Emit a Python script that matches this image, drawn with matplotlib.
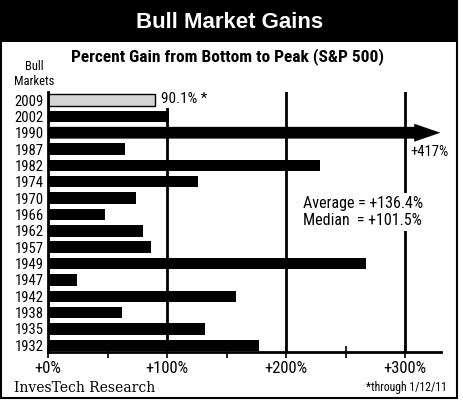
import matplotlib
matplotlib.use("Agg")
import matplotlib.pyplot as plt
from matplotlib import font_manager
from matplotlib.patches import Rectangle, FancyArrow

years = ["1932", "1935", "1938", "1942", "1947", "1949", "1957", "1962",
         "1966", "1970", "1974", "1982", "1987", "1990", "2002", "2009"]
gains = [177.3, 131.9, 62.2, 157.7, 24.0, 267.1, 86.4, 79.8,
         48.0, 73.5, 125.6, 228.8, 64.5, 417.0, 101.5, 90.1]
xticks = [0, 50, 100, 150, 200, 250, 300]
xticklabels = ["+0%", "", "+100%", "", "+200%", "", "+300%"]
gridvals = [100, 200, 300]

names = {f.name for f in font_manager.fontManager.ttflist}
cond = "DejaVu Sans"
for cand in ["Liberation Sans Narrow", "Roboto Condensed", "Open Sans Condensed", "Liberation Sans"]:
    if cand in names:
        cond = cand
        break

W, H = 464, 403
fig = plt.figure(figsize=(W / 100, H / 100), dpi=100)
fig.patch.set_facecolor("white")

# outer border and header band
fig.patches.append(Rectangle((1.5 / W, 5 / H), 456 / W, (H - 5) / H, transform=fig.transFigure,
                             fill=False, edgecolor="black", linewidth=1.5, zorder=0))
fig.patches.append(Rectangle((0, (H - 42) / H), 458 / W, 42 / H, transform=fig.transFigure,
                             facecolor="black", edgecolor="none", zorder=1))
fig.text(230 / W, 1 - 22 / H, "Bull Market Gains", color="white", fontsize=16,
         fontweight="bold", family="Liberation Sans", ha="center", va="center")
fig.text(228 / W, 1 - 57 / H, "Percent Gain from Bottom to Peak (S&P 500)", color="black",
         fontsize=12.5, family=cond, fontweight="semibold", ha="center", va="center")
fig.text(34 / W, 1 - 74 / H, "Bull\nMarkets", color="black", fontsize=9, family=cond,
         ha="center", va="center", linespacing=1.15)

left, right, bottom, top = 48, 441, 352, 92
ax = fig.add_axes([left / W, (H - bottom) / H, (right - left) / W, (bottom - top) / H])
xmax = 330
ax.set_xlim(0, xmax)
ax.set_ylim(-0.41, 15.49)

for g in gridvals:
    ax.axvline(g, color="black", linewidth=2, zorder=1)

ypos = list(range(len(years)))
for y, v, lab in zip(ypos, gains, years):
    if lab == "2009":
        ax.barh(y, v, height=0.7, color="#d4d4d4", edgecolor="black", linewidth=1, zorder=2)
        ax.text(v + 4.5, y + 0.05, f"{v:.1f}% *", fontsize=11, family=cond, va="center", ha="left",
                zorder=4, bbox=dict(facecolor="white", edgecolor="none", pad=1))
    elif v > xmax:
        head = 22
        ax.add_patch(FancyArrow(0, y, xmax - 0.5 - head, 0, width=0.72, head_width=1.1,
                                head_length=head, length_includes_head=False,
                                color="black", linewidth=0, zorder=2, clip_on=False))
        ax.text(304, y - 1.15, f"+{v:.0f}%", fontsize=10.5, family=cond, ha="left", va="center",
                zorder=4)
    else:
        ax.barh(y, v, height=0.7, color="black", zorder=2)

ax.text(214, 8.15, "Average = +136.4%\nMedian  = +101.5%", fontsize=11.5, family=cond,
        ha="left", va="center", linespacing=1.15, zorder=4,
        bbox=dict(facecolor="white", edgecolor="none", pad=2))

ax.set_yticks(ypos)
ax.set_yticklabels(years, family=cond, fontsize=10.5)
ax.set_xticks(xticks)
ax.set_xticklabels(xticklabels, family=cond, fontsize=12)
ax.tick_params(axis="y", length=0, pad=3)
ax.tick_params(axis="x", direction="inout", length=9, width=1.2, pad=2)
for s in ["top", "right"]:
    ax.spines[s].set_visible(False)
for s in ["left", "bottom"]:
    ax.spines[s].set_linewidth(2)
ax.set_facecolor("white")

fig.text(14 / W, 1 - 388 / H, "InvesTech Research", fontsize=10, family="DejaVu Serif",
         ha="left", va="center")
fig.text(447 / W, 1 - 388 / H, "*through 1/12/11", fontsize=8.5, family=cond,
         ha="right", va="center")

fig.savefig("out.png", dpi=100)
